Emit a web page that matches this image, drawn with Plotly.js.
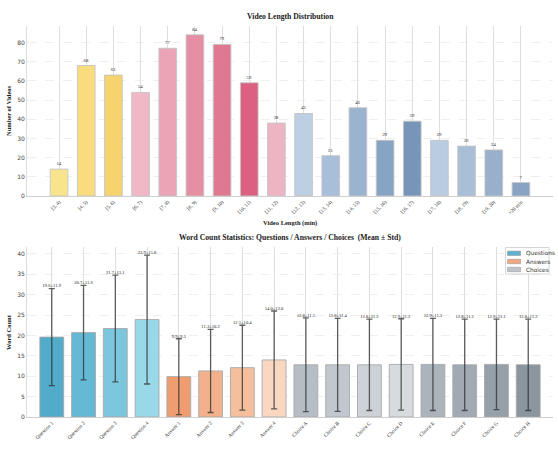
<!DOCTYPE html>
<html>
<head>
<meta charset="utf-8">
<script src="https://cdn.plot.ly/plotly-3.0.1.min.js"></script>
<style>
  html, body { margin: 0; padding: 0; background: #ffffff; }
  #chart { width: 558px; height: 455px; }
</style>
</head>
<body>
<div id="chart"></div>
<script>
// ---- Video length histogram ----
const lengthBins = ['[3, 4)', '[4, 5)', '[5, 6)', '[6, 7)', '[7, 8)', '[8, 9)', '[9, 10)', '[10, 11)', '[11, 12)',
  '[12, 13)', '[13, 14)', '[14, 15)', '[15, 16)', '[16, 17)', '[17, 18)', '[18, 19)', '[19, 20)', '>20 min'];
const videoCounts = [14, 68, 63, 54, 77, 84, 79, 59, 38, 43, 21, 46, 29, 39, 29, 26, 24, 7];
const binColors = ['#f9e48e', '#f8dc7e', '#f6d36c', '#f0b8c6', '#eba4b5', '#e68fa4', '#e17892', '#dc6180', '#edb4c3',
  '#bccfe3', '#a9bed8', '#9ab3cf', '#88a4c5', '#7794b9', '#b9cce1', '#a9bed7', '#98b0cc', '#88a3c3'];

// ---- Word count statistics ----
const questionLabels = ['Question 1', 'Question 2', 'Question 3', 'Question 4'];
const questionMeans = [19.6, 20.7, 21.7, 23.9];
const questionStds = [11.9, 11.6, 13.1, 15.8];
const questionColors = ['#52abc9', '#64b9d5', '#7cc7de', '#98d8e8'];

const answerLabels = ['Answer 1', 'Answer 2', 'Answer 3', 'Answer 4'];
const answerMeans = [9.9, 11.3, 12.1, 14.0];
const answerStds = [9.3, 10.2, 10.4, 12.0];
const answerColors = ['#ee9c70', '#f2b18c', '#f5be9d', '#f9d7c1'];

const choiceLabels = ['Choice A', 'Choice B', 'Choice C', 'Choice D', 'Choice E', 'Choice F', 'Choice G', 'Choice H'];
const choiceMeans = [12.8, 12.8, 12.8, 12.9, 12.9, 12.8, 12.9, 12.8];
const choiceStds = [11.5, 11.4, 11.2, 11.2, 11.3, 11.2, 11.1, 11.2];
const choiceColors = ['#b5bdc5', '#c0c7ce', '#cdd2d8', '#d7dbe0', '#abb3bb', '#a1a9b2', '#96a0a9', '#8b959e'];

const groupNames = ['Questions', 'Answers', 'Choices'];
const groupSwatches = ['#5ab2cf', '#f0a680', '#bfc5cb'];

const SERIF = '"Liberation Serif", "Times New Roman", serif';
const SANS = '"DejaVu Sans", sans-serif';

const traces = [];

traces.push({
  type: 'bar', x: lengthBins, y: videoCounts, xaxis: 'x', yaxis: 'y',
  width: 0.65,
  marker: { color: binColors, line: { color: '#c4c4c4', width: 0.9 } },
  text: videoCounts.map(String), textposition: 'outside', constraintext: 'none',
  textfont: { family: SERIF, size: 4.6, color: '#222' },
  cliponaxis: false, showlegend: false, hoverinfo: 'x+y'
});

function groupTrace(name, labels, means, stds, colors) {
  return {
    type: 'bar', name: name, x: labels, y: means, xaxis: 'x2', yaxis: 'y2',
    width: 0.75,
    marker: { color: colors, line: { color: '#a8a8a8', width: 0.9 } },
    error_y: { type: 'data', array: stds, visible: true, color: 'rgba(45,45,45,0.75)', thickness: 1.3, width: 3 },
    showlegend: false
  };
}
function labelTrace(labels, means, stds) {
  return {
    type: 'scatter', mode: 'text', x: labels,
    y: means.map((m, i) => m + stds[i]),
    text: means.map((m, i) => m.toFixed(1) + '±' + stds[i].toFixed(1)),
    textposition: 'top center',
    textfont: { family: SERIF, size: 4.6, color: '#222' },
    xaxis: 'x2', yaxis: 'y2', showlegend: false, cliponaxis: false, hoverinfo: 'skip'
  };
}
traces.push(groupTrace(groupNames[0], questionLabels, questionMeans, questionStds, questionColors));
traces.push(groupTrace(groupNames[1], answerLabels, answerMeans, answerStds, answerColors));
traces.push(groupTrace(groupNames[2], choiceLabels, choiceMeans, choiceStds, choiceColors));
traces.push(labelTrace(questionLabels, questionMeans, questionStds));
traces.push(labelTrace(answerLabels, answerMeans, answerStds));
traces.push(labelTrace(choiceLabels, choiceMeans, choiceStds));

const allLabels = questionLabels.concat(answerLabels, choiceLabels);

const W = 558, H = 455;
const px = v => v / W;
const py = v => 1 - v / H;

const xCommon = {
  type: 'category', showgrid: true, gridcolor: '#dedede', gridwidth: 1,
  tickangle: -45, tickfont: { family: SERIF, size: 5.2, color: '#333' },
  ticks: '', showline: true, linecolor: '#cfcfcf', linewidth: 1, zeroline: false,
  domain: [px(27), px(553)], fixedrange: true
};
const yCommon = {
  showgrid: true, gridcolor: '#e8e8e8', griddash: 'dash', gridwidth: 0.7,
  tickfont: { family: SANS, size: 6, color: '#444' },
  ticks: '', showline: true, linecolor: '#dcdcdc', linewidth: 1, zeroline: false, fixedrange: true
};

// Title / axis-label annotations
function label(text, x, y, size, angle) {
  return { text: text, x: px(x), y: py(y), xref: 'paper', yref: 'paper', xanchor: 'center', yanchor: 'middle',
    textangle: angle || 0, showarrow: false, font: { family: SERIF, size: size, color: '#222' } };
}
const annotations = [
  label('<b>Video Length Distribution</b>', 290, 17, 7.7),
  label('<b>Number of Videos</b>', 8, 111, 6.5, -90),
  label('<b>Video Length (min)</b>', 290, 222.5, 6.5),
  label('<b>Word Count Statistics: Questions / Answers / Choices  (Mean ± Std)</b>', 290, 237.5, 7.7),
  label('<b>Word Count</b>', 8, 332, 6.5, -90)
];

// Legend box for the word-count panel
const shapes = [{
  type: 'rect', xref: 'paper', yref: 'paper', x0: px(505.5), x1: px(549), y0: py(274), y1: py(247.5),
  fillcolor: 'rgba(255,255,255,0.85)', line: { color: '#cccccc', width: 0.8 }
}];
const rowY = [253.3, 261.5, 269.5];
groupNames.forEach((name, i) => {
  shapes.push({
    type: 'rect', xref: 'paper', yref: 'paper', x0: px(507.5), x1: px(520.5), y0: py(rowY[i] + 2.2), y1: py(rowY[i] - 2.2),
    fillcolor: groupSwatches[i], line: { color: '#9a9a9a', width: 0.6 }
  });
  annotations.push({
    text: name, x: px(524), y: py(rowY[i]), xref: 'paper', yref: 'paper', xanchor: 'left', yanchor: 'middle',
    showarrow: false, font: { family: SANS, size: 5.8, color: '#333' }
  });
});

const layout = {
  width: W, height: H,
  margin: { l: 0, r: 0, t: 0, b: 0 },
  paper_bgcolor: '#ffffff', plot_bgcolor: '#ffffff',
  barmode: 'overlay',
  showlegend: false,
  xaxis: Object.assign({}, xCommon, { anchor: 'y', categoryarray: lengthBins, categoryorder: 'array', range: [-1.18, 18.18] }),
  yaxis: Object.assign({}, yCommon, { anchor: 'x', domain: [py(196), py(26)], range: [0, 88.6], dtick: 10 }),
  xaxis2: Object.assign({}, xCommon, { anchor: 'y2', categoryarray: allLabels, categoryorder: 'array', range: [-0.78, 15.78] }),
  yaxis2: Object.assign({}, yCommon, { anchor: 'x2', domain: [py(417), py(247)], range: [0, 41.7], dtick: 5 }),
  shapes: shapes,
  annotations: annotations
};

Plotly.newPlot('chart', traces, layout, { staticPlot: true, displayModeBar: false });
</script>
</body>
</html>
